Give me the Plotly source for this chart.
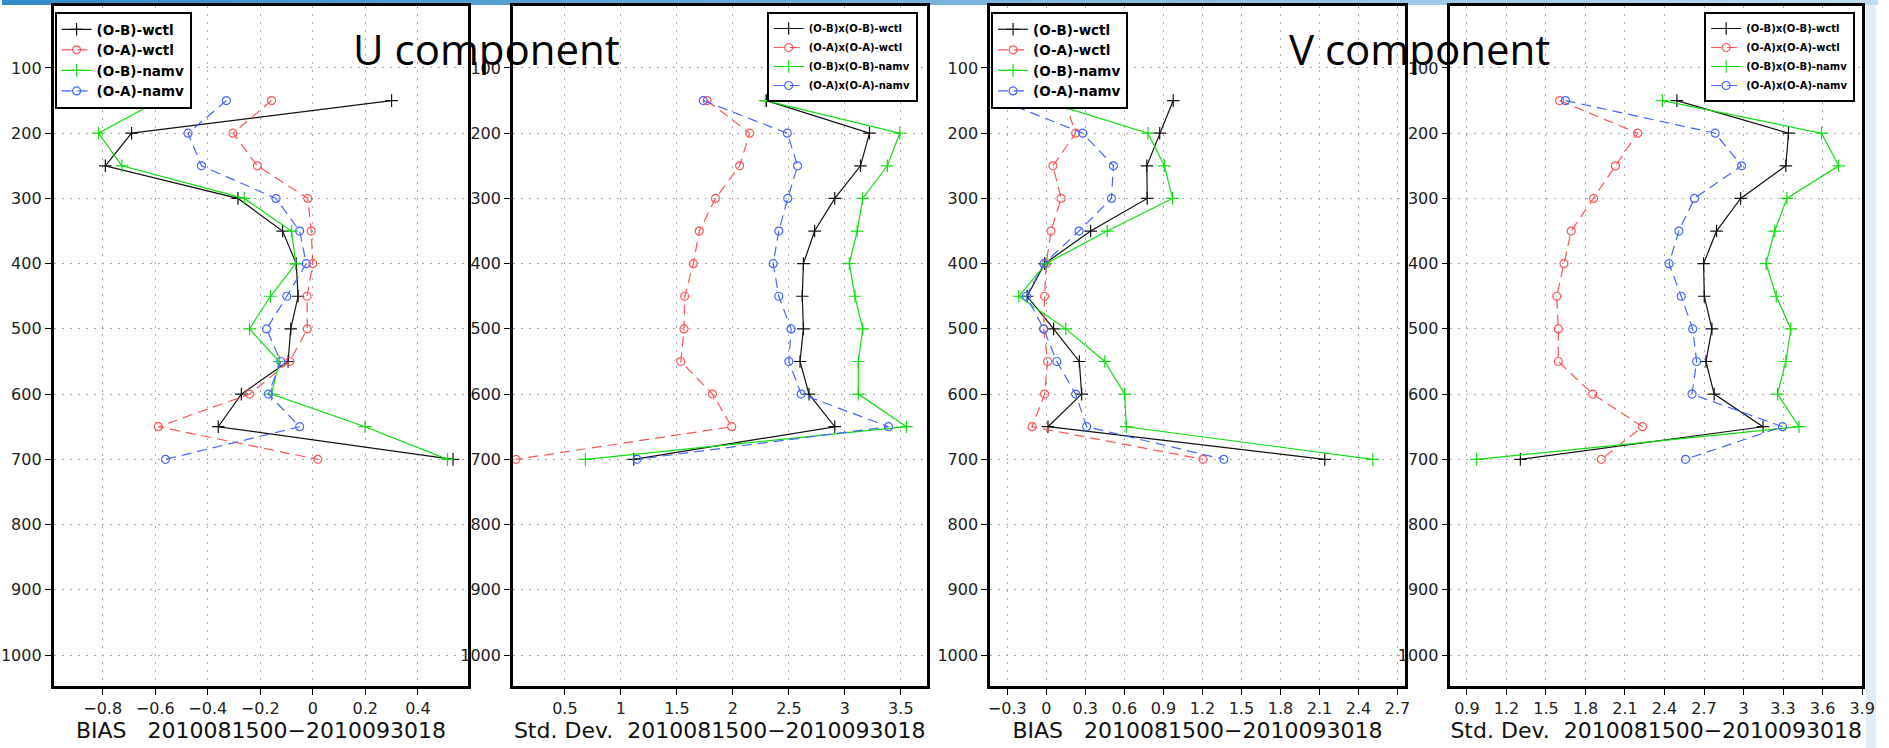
import plotly.graph_objects as go

# ---------------- data ----------------
levels = [150, 200, 250, 300, 350, 400, 450, 500, 550, 600, 650, 700]

# U component BIAS
u_bias_ob_wctl = [0.30, -0.69, -0.79, -0.285, -0.115, -0.063, -0.056, -0.084, -0.094, -0.272, -0.36, 0.534]
u_bias_oa_wctl = [-0.157, -0.304, -0.211, -0.019, -0.006, 0.0, -0.022, -0.021, -0.088, -0.241, -0.588, 0.019]
u_bias_ob_namv = [-0.586, -0.816, -0.727, -0.261, -0.081, -0.065, -0.161, -0.241, -0.128, -0.157, 0.199, 0.513]
u_bias_oa_namv = [-0.329, -0.475, -0.424, -0.14, -0.05, -0.025, -0.099, -0.176, -0.122, -0.169, -0.05, -0.561]

# U component Std. Dev.
u_std_ob_wctl = [2.30, 3.22, 3.14, 2.91, 2.73, 2.63, 2.62, 2.63, 2.60, 2.68, 2.91, 1.115]
u_std_oa_wctl = [1.77, 2.15, 2.06, 1.845, 1.70, 1.647, 1.57, 1.564, 1.535, 1.818, 1.99, 0.063]
u_std_ob_namv = [2.29, 3.49, 3.38, 3.16, 3.11, 3.04, 3.09, 3.16, 3.12, 3.12, 3.55, 0.683]
u_std_oa_namv = [1.736, 2.486, 2.578, 2.49, 2.41, 2.36, 2.41, 2.52, 2.50, 2.61, 3.39, 1.144]

# V component BIAS
v_bias_ob_wctl = [0.976, 0.872, 0.773, 0.776, 0.341, -0.013, -0.147, 0.056, 0.254, 0.272, 0.013, 2.141]
v_bias_oa_wctl = [0.14, 0.226, 0.051, 0.114, 0.036, 0.0, -0.013, -0.02, 0.01, -0.013, -0.109, 1.205]
v_bias_ob_namv = [-0.028, 0.781, 0.908, 0.971, 0.468, -0.003, -0.211, 0.15, 0.45, 0.603, 0.615, 2.51]
v_bias_oa_namv = [-0.351, 0.28, 0.516, 0.501, 0.252, -0.018, -0.153, -0.02, 0.081, 0.226, 0.31, 1.365]

# V component Std. Dev.
v_std_ob_wctl = [2.494, 3.341, 3.321, 2.978, 2.795, 2.697, 2.702, 2.76, 2.715, 2.777, 3.148, 1.306]
v_std_oa_wctl = [1.604, 2.196, 2.028, 1.862, 1.692, 1.637, 1.582, 1.594, 1.594, 1.855, 2.233, 1.92]
v_std_ob_namv = [2.384, 3.592, 3.722, 3.329, 3.236, 3.171, 3.248, 3.359, 3.321, 3.258, 3.421, 0.973]
v_std_oa_namv = [1.649, 2.785, 2.985, 2.627, 2.509, 2.434, 2.527, 2.614, 2.644, 2.609, 3.296, 2.559]

bias_names = ["(O-B)-wctl", "(O-A)-wctl", "(O-B)-namv", "(O-A)-namv"]
std_names = ["(O-B)x(O-B)-wctl", "(O-A)x(O-A)-wctl", "(O-B)x(O-B)-namv", "(O-A)x(O-A)-namv"]

y_tickvals = [100, 200, 300, 400, 500, 600, 700, 800, 900, 1000]
y_ticktext = ["100", "200", "300", "400", "500", "600", "700", "800", "900", "1000"]

p1_tickvals = [-0.8, -0.6, -0.4, -0.2, 0, 0.2, 0.4]
p1_ticktext = ["\u22120.8", "\u22120.6", "\u22120.4", "\u22120.2", "0", "0.2", "0.4"]
p2_tickvals = [0.5, 1, 1.5, 2, 2.5, 3, 3.5]
p2_ticktext = ["0.5", "1", "1.5", "2", "2.5", "3", "3.5"]
p3_tickvals = [-0.3, 0, 0.3, 0.6, 0.9, 1.2, 1.5, 1.8, 2.1, 2.4, 2.7]
p3_ticktext = ["\u22120.3", "0", "0.3", "0.6", "0.9", "1.2", "1.5", "1.8", "2.1", "2.4", "2.7"]
p4_tickvals = [0.9, 1.2, 1.5, 1.8, 2.1, 2.4, 2.7, 3.0, 3.3, 3.6, 3.9]
p4_ticktext = ["0.9", "1.2", "1.5", "1.8", "2.1", "2.4", "2.7", "3", "3.3", "3.6", "3.9"]

bias_title = "BIAS   2010081500\u22122010093018"
std_title = "Std. Dev.  2010081500\u22122010093018"

# ---------------- layout geometry ----------------
W, H = 1889, 748
def fx(px):
    return px / W
def fy(py):
    return 1 - py / H

panels = [
    dict(series=[u_bias_ob_wctl, u_bias_oa_wctl, u_bias_ob_namv, u_bias_oa_namv], names=bias_names,
         dom=(52, 470), rng=[-0.987, 0.592], tv=p1_tickvals, tt=p1_ticktext, title=bias_title,
         leg=dict(x=fx(53), xanchor="left"), legfont=13.5),
    dict(series=[u_std_ob_wctl, u_std_oa_wctl, u_std_ob_namv, u_std_oa_namv], names=std_names,
         dom=(515, 932), rng=[0.036, 3.73], tv=p2_tickvals, tt=p2_ticktext, title=std_title,
         leg=dict(x=fx(923), xanchor="right"), legfont=10),
    dict(series=[v_bias_ob_wctl, v_bias_oa_wctl, v_bias_ob_namv, v_bias_oa_namv], names=bias_names,
         dom=(996, 1414), rng=[-0.432, 2.756], tv=p3_tickvals, tt=p3_ticktext, title=bias_title,
         leg=dict(x=fx(997), xanchor="left"), legfont=13.5),
    dict(series=[v_std_ob_wctl, v_std_oa_wctl, v_std_ob_namv, v_std_oa_namv], names=std_names,
         dom=(1460, 1875), rng=[0.775, 3.9], tv=p4_tickvals, tt=p4_ticktext, title=std_title,
         leg=dict(x=fx(1868), xanchor="right"), legfont=10),
]

styles = [
    dict(color="#111111", symbol="cross-thin", dash="solid", size=9),
    dict(color="#ff5555", symbol="circle-open", dash="10px,6px", size=8),
    dict(color="#11dd11", symbol="cross-thin", dash="solid", size=9),
    dict(color="#4466ff", symbol="circle-open", dash="10px,6px", size=8),
]

fig = go.Figure()
layout = dict(
    width=W, height=H, margin=dict(l=0, r=0, t=0, b=0),
    paper_bgcolor="white", plot_bgcolor="white", showlegend=True,
    font=dict(family="DejaVu Sans", color="#111111"),
)

ydom = [fy(686), fy(6)]
for i, p in enumerate(panels):
    n = "" if i == 0 else str(i + 1)
    legname = "legend" + n
    for s, name, st in zip(p["series"], p["names"], styles):
        fig.add_trace(go.Scatter(
            x=s, y=levels, mode="lines+markers", name=name,
            xaxis="x" + n, yaxis="y" + n, legend=legname,
            line=dict(color=st["color"], width=1.2, dash=st["dash"]),
            marker=dict(symbol=st["symbol"], size=st["size"], color=st["color"],
                        line=dict(color=st["color"], width=1.2)),
        ))
    axcommon = dict(showline=True, linecolor="black", linewidth=2.5, mirror=True,
                    ticks="outside", ticklen=6, tickcolor="black", tickwidth=1,
                    showgrid=True, gridcolor="#a8a8a8", gridwidth=1, griddash="2px,6px",
                    zeroline=False, tickfont=dict(family="DejaVu Sans", size=16, color="#222222"))
    layout["xaxis" + n] = dict(axcommon, domain=[fx(p["dom"][0]), fx(p["dom"][1])],
                               range=p["rng"], anchor="y" + n,
                               tickmode="array", tickvals=p["tv"], ticktext=p["tt"],
                               title=dict(text=p["title"], standoff=4,
                                          font=dict(family="DejaVu Sans", size=22, color="#111111")))
    layout["yaxis" + n] = dict(axcommon, domain=ydom, range=[1047.5, 5], anchor="x" + n,
                               tickmode="array", tickvals=y_tickvals, ticktext=y_ticktext)
    layout[legname] = dict(p["leg"], y=fy(12), yanchor="top", bgcolor="white",
                           bordercolor="black", borderwidth=2,
                           font=dict(family="DejaVu Sans", size=p["legfont"], color="black",
                                     weight="bold"),
                           tracegroupgap=0, itemwidth=30)

# slide decorations: top gradient bar and right strip
shapes = []
nseg = 40
c0 = (52, 140, 205)
c1 = (190, 220, 240)
for k in range(nseg):
    t = k / (nseg - 1)
    col = "rgb(%d,%d,%d)" % tuple(int(c0[j] + (c1[j] - c0[j]) * t) for j in range(3))
    shapes.append(dict(type="rect", xref="paper", yref="paper", layer="below",
                       x0=k / nseg, x1=(k + 1) / nseg + 0.001, y0=fy(5), y1=1,
                       fillcolor=col, line=dict(width=0)))
shapes.append(dict(type="rect", xref="paper", yref="paper", layer="below",
                   x0=fx(1879), x1=1, y0=0, y1=fy(5), fillcolor="#e4edf5", line=dict(width=0)))
layout["shapes"] = shapes

layout["annotations"] = [
    dict(text="U component", x=fx(352), y=fy(48), xref="paper", yref="paper",
         xanchor="left", yanchor="middle", showarrow=False,
         font=dict(family="Open Sans", size=42, color="black")),
    dict(text="V component", x=fx(1295), y=fy(48), xref="paper", yref="paper",
         xanchor="left", yanchor="middle", showarrow=False,
         font=dict(family="Open Sans", size=42, color="black")),
]

fig.update_layout(**layout)
fig.write_html("out.html", config={"displayModeBar": False},
               post_script="document.body.style.margin='0';document.body.style.overflow='hidden';")
